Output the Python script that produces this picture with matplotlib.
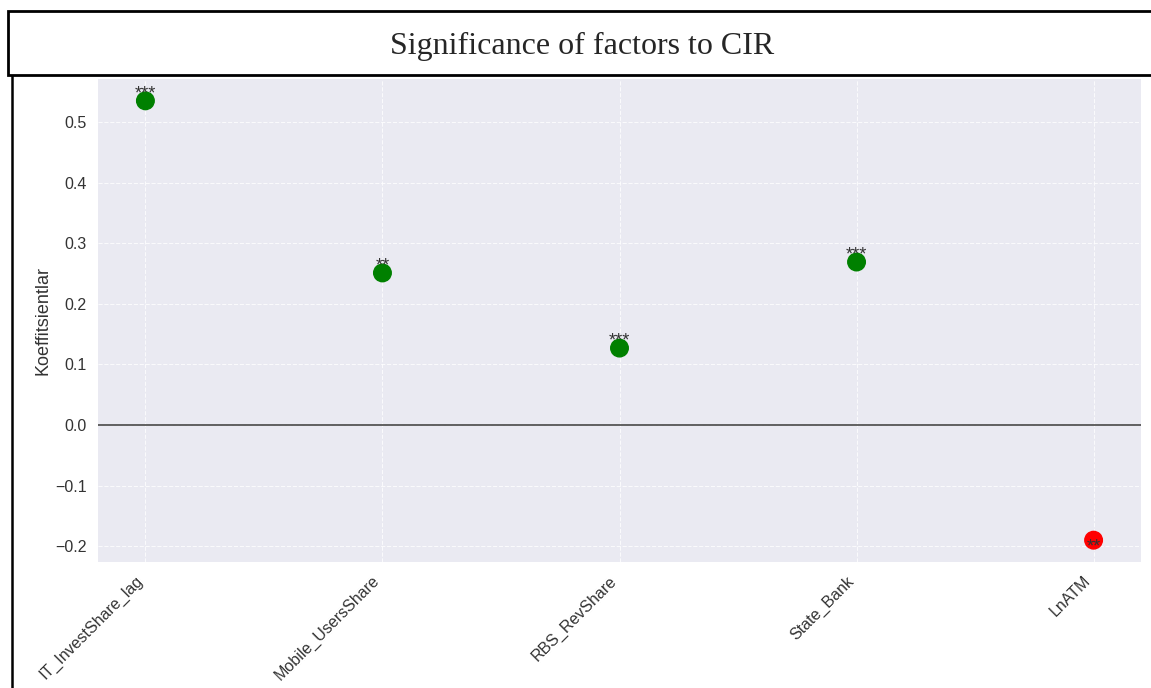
import numpy as np
import matplotlib.pyplot as plt
from matplotlib.patches import Rectangle
from matplotlib.lines import Line2D

# Koeffitsientlar va ahamiyatlilik
faktorlar = ["IT_InvestShare_lag", "Mobile_UsersShare", "RBS_RevShare", "State_Bank", "LnATM"]
koef = [0.535, 0.251, 0.127, 0.269, -0.190]
yulduz = ["***", "**", "***", "***", "**"]

plt.style.use("seaborn-v0_8-darkgrid")
plt.rcParams["font.family"] = ["Liberation Sans", "DejaVu Sans"]

fig = plt.figure(figsize=(11.51, 6.88), dpi=100)
ax = fig.add_axes([98 / 1151, 1 - 562 / 688, (1141 - 98) / 1151, (562 - 79) / 688])

x = np.arange(len(faktorlar))
ranglar = ["green" if k > 0 else "red" for k in koef]
ax.scatter(x, koef, c=ranglar, s=160, zorder=3)
ax.axhline(0, color="#555555", linewidth=1.3, zorder=2)

# yulduzchalar: musbatda nuqta ustida, manfiyda nuqta ichida
for xi, k, s in zip(x, koef, yulduz):
    dy = -0.002 if k > 0 else -0.026
    ax.text(xi, k + dy, s, ha="center", va="bottom",
            fontsize=13, color="#333333", zorder=4)

ax.set_xticks(x)
ax.set_xticklabels(faktorlar, rotation=45, ha="right", fontsize=11.5, color="#333333")
ax.tick_params(axis="y", labelsize=11.5, labelcolor="#333333", pad=8)
ax.tick_params(axis="x", pad=8)
ax.set_xlim(-0.2, 4.2)
ax.set_ylim(-0.226, 0.571)
ax.set_ylabel("Koeffitsientlar", fontsize=13, color="#333333", labelpad=3)
ax.grid(True, linestyle="--", color="white", alpha=0.8)

# Sarlavha ramkasi
fig.patches.append(Rectangle((8 / 1151, 1 - 75 / 688), 1.05, 64 / 688,
                             transform=fig.transFigure, facecolor="white",
                             edgecolor="black", linewidth=2, zorder=5))
fig.lines.append(Line2D([11.5 / 1151, 11.5 / 1151], [0, 1 - 75 / 688],
                        transform=fig.transFigure, color="black", linewidth=1.8))
fig.text(582 / 1151, 1 - 46 / 688, "Significance of factors to CIR",
         ha="center", va="center", fontsize=23, family="Liberation Serif", zorder=6)

fig.savefig("out.png", dpi=100)
